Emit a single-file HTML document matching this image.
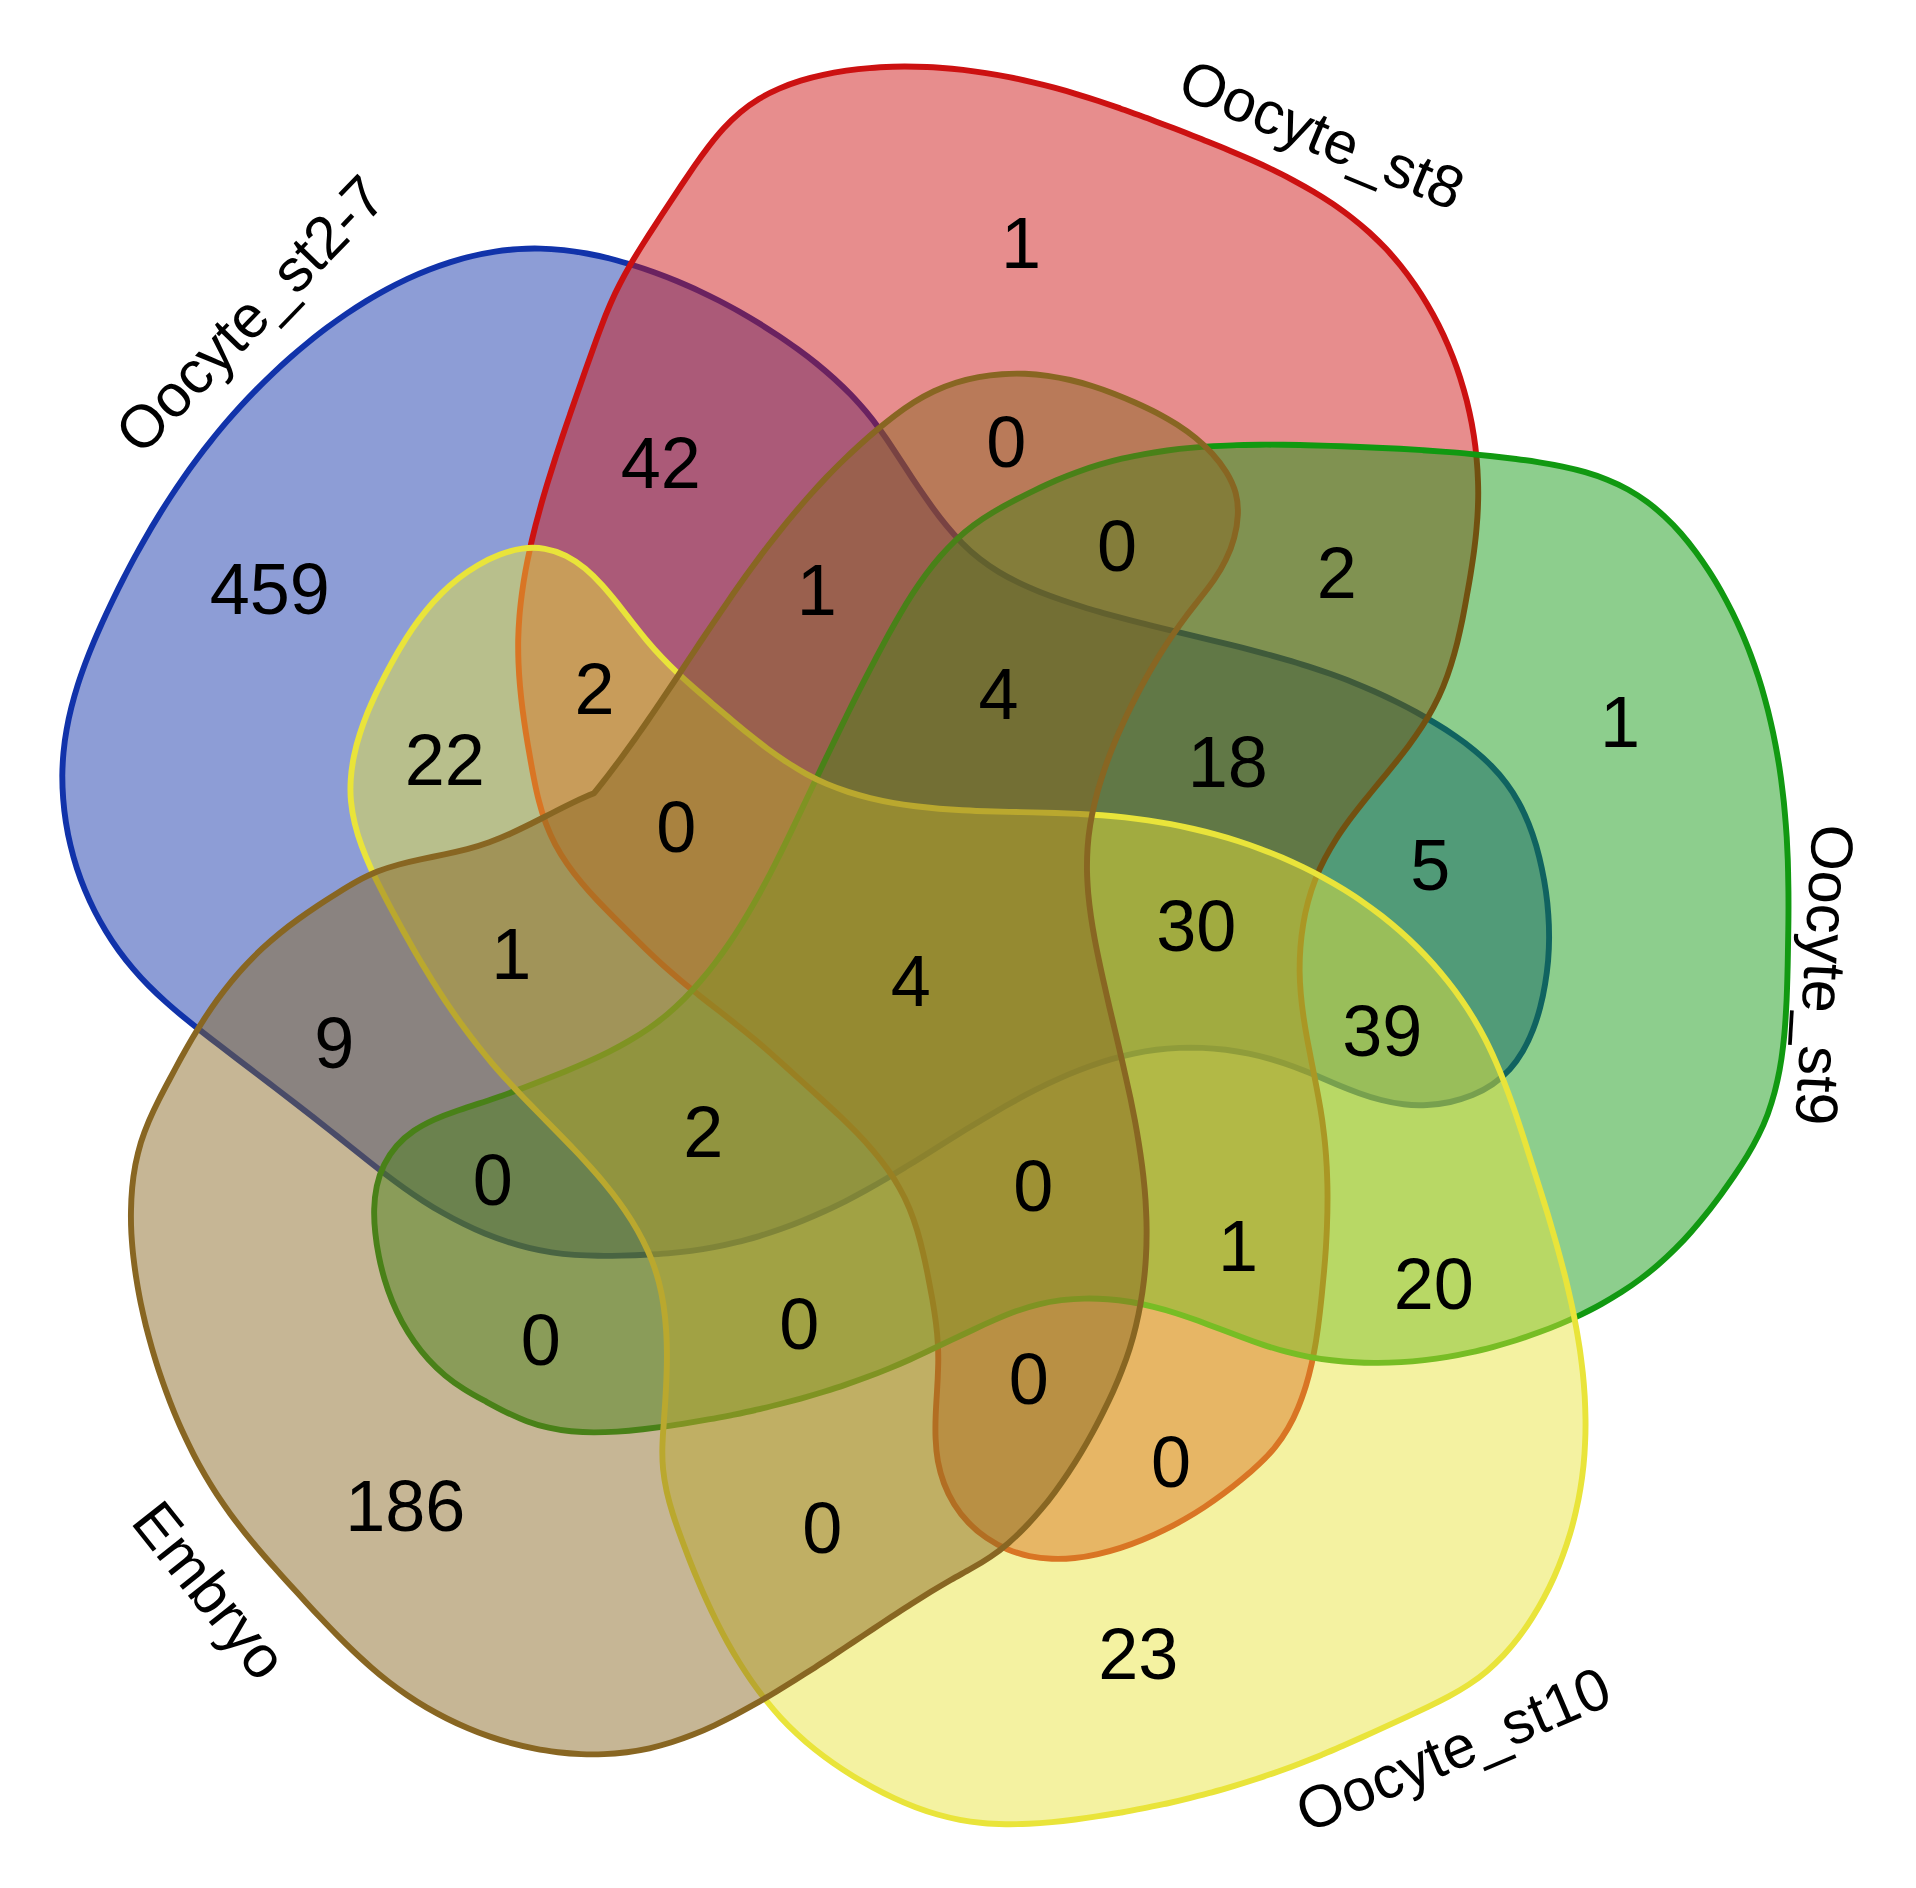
<!DOCTYPE html>
<html lang="en">
<head>
<meta charset="utf-8">
<title>Venn diagram</title>
<style>
html,body{margin:0;padding:0;background:#fff;}
body{width:1916px;height:1888px;overflow:hidden;}
svg{display:block;}
text{font-family:"Liberation Sans",sans-serif;fill:#000;text-anchor:middle;}
.n{font-size:72px;}
.l{font-size:60px;}
</style>
</head>
<body>
<svg width="1916" height="1888" viewBox="0 0 1916 1888">
<rect width="1916" height="1888" fill="#ffffff"/>
<path d="M540.6,248.6C533.0,248.4 525.3,248.6 517.8,249.1C510.2,249.6 502.6,250.4 495.1,251.6C487.6,252.8 480.1,254.2 472.7,256.0C465.3,257.7 457.9,259.8 450.6,262.1C443.3,264.4 436.1,266.9 428.9,269.8C421.7,272.6 414.6,275.6 407.5,278.9C400.5,282.2 393.5,285.7 386.7,289.4C379.8,293.1 373.0,297.1 366.2,301.1C359.5,305.2 352.9,309.5 346.4,313.9C339.8,318.4 333.4,323.0 327.0,327.7C320.7,332.4 314.5,337.3 308.4,342.2C302.2,347.2 296.2,352.3 290.3,357.5C284.4,362.7 278.7,367.9 273.0,373.3C267.4,378.6 261.8,384.1 256.4,389.6C251.0,395.0 245.7,400.6 240.5,406.3C235.4,411.9 230.3,417.6 225.3,423.4C220.4,429.2 215.5,435.1 210.8,441.1C206.0,447.0 201.3,453.1 196.8,459.2C192.2,465.3 187.7,471.5 183.4,477.8C179.0,484.1 174.7,490.5 170.5,497.0C166.3,503.4 162.1,510.0 158.1,516.6C154.0,523.2 150.0,529.9 146.2,536.7C142.3,543.4 138.5,550.3 134.7,557.1C131.0,564.0 127.3,570.9 123.8,577.9C120.2,584.9 116.7,591.9 113.3,599.0C109.9,606.0 106.6,613.1 103.3,620.2C100.1,627.4 96.9,634.5 93.9,641.7C90.9,648.9 88.0,656.1 85.3,663.3C82.6,670.6 80.0,677.9 77.7,685.2C75.4,692.5 73.3,699.9 71.4,707.3C69.5,714.8 67.9,722.2 66.6,729.8C65.2,737.3 64.2,744.9 63.5,752.6C62.8,760.2 62.4,767.9 62.3,775.7C62.3,783.4 62.6,791.2 63.2,799.0C63.8,806.8 64.7,814.6 65.9,822.3C67.1,830.1 68.6,837.8 70.5,845.4C72.3,853.0 74.4,860.6 76.8,868.0C79.2,875.4 81.9,882.7 84.9,889.9C87.9,897.1 91.1,904.1 94.6,911.0C98.1,917.9 101.9,924.6 105.9,931.2C109.9,937.8 114.2,944.2 118.7,950.5C123.2,956.7 128.0,962.8 133.0,968.6C138.0,974.5 143.2,980.2 148.6,985.6C154.1,991.1 159.7,996.4 165.5,1001.6C171.3,1006.8 177.2,1011.8 183.2,1016.8C189.2,1021.7 195.3,1026.6 201.5,1031.4C207.6,1036.2 213.8,1041.0 220.0,1045.7C226.1,1050.4 232.3,1055.1 238.5,1059.9C244.7,1064.6 250.8,1069.3 257.0,1074.0C263.1,1078.6 269.3,1083.3 275.4,1088.0C281.6,1092.7 287.7,1097.4 293.8,1102.1C300.0,1106.9 306.1,1111.6 312.2,1116.3C318.3,1121.1 324.4,1125.9 330.4,1130.7C336.5,1135.5 342.5,1140.3 348.6,1145.2C354.6,1150.0 360.7,1154.9 366.8,1159.7C372.8,1164.5 379.0,1169.3 385.1,1174.0C391.3,1178.7 397.5,1183.3 403.9,1187.8C410.2,1192.3 416.6,1196.7 423.1,1200.9C429.6,1205.1 436.3,1209.2 443.1,1213.0C449.8,1216.8 456.7,1220.5 463.7,1223.9C470.7,1227.4 477.8,1230.6 484.9,1233.5C492.1,1236.4 499.4,1239.1 506.7,1241.5C514.1,1244.0 521.5,1246.1 529.0,1247.9C536.5,1249.7 544.0,1251.2 551.6,1252.4C559.3,1253.5 566.9,1254.3 574.6,1254.9C582.3,1255.4 590.1,1255.7 597.9,1255.8C605.6,1255.9 613.4,1255.8 621.2,1255.6C629.0,1255.4 636.8,1255.2 644.6,1254.8C652.4,1254.4 660.1,1254.0 667.9,1253.4C675.7,1252.7 683.4,1251.9 691.1,1250.9C698.8,1249.9 706.4,1248.7 714.1,1247.2C721.7,1245.8 729.3,1244.1 736.8,1242.2C744.4,1240.4 751.8,1238.3 759.3,1236.1C766.7,1233.8 774.1,1231.4 781.4,1228.8C788.7,1226.2 795.9,1223.5 803.1,1220.5C810.3,1217.6 817.4,1214.5 824.4,1211.3C831.5,1208.1 838.4,1204.7 845.3,1201.3C852.1,1197.8 858.9,1194.2 865.7,1190.4C872.4,1186.7 879.1,1182.9 885.7,1179.0C892.3,1175.1 898.9,1171.1 905.5,1167.1C912.1,1163.1 918.7,1159.0 925.2,1154.9C931.8,1150.8 938.4,1146.7 945.0,1142.5C951.6,1138.4 958.3,1134.2 965.0,1130.1C971.7,1126.0 978.4,1121.9 985.1,1117.9C991.9,1113.9 998.7,1109.9 1005.5,1106.0C1012.3,1102.2 1019.2,1098.4 1026.1,1094.7C1033.0,1091.1 1040.0,1087.6 1047.0,1084.2C1054.0,1080.9 1061.0,1077.7 1068.1,1074.6C1075.3,1071.6 1082.4,1068.8 1089.6,1066.2C1096.9,1063.6 1104.1,1061.2 1111.5,1059.1C1118.8,1057.0 1126.2,1055.2 1133.7,1053.6C1141.1,1052.0 1148.7,1050.7 1156.3,1049.8C1163.9,1048.8 1171.6,1048.2 1179.3,1047.9C1187.0,1047.6 1194.7,1047.6 1202.5,1047.9C1210.3,1048.2 1218.0,1048.9 1225.8,1049.8C1233.5,1050.8 1241.2,1052.1 1248.9,1053.6C1256.6,1055.2 1264.2,1057.1 1271.7,1059.3C1279.3,1061.5 1286.7,1064.0 1294.0,1066.8C1301.4,1069.5 1308.7,1072.5 1315.9,1075.5C1323.1,1078.6 1330.3,1081.7 1337.5,1084.7C1344.7,1087.7 1351.9,1090.5 1359.2,1093.2C1366.4,1095.8 1373.7,1098.1 1381.2,1100.0C1388.6,1101.9 1396.1,1103.4 1403.7,1104.3C1411.3,1105.2 1419.1,1105.4 1427.0,1105.0C1434.8,1104.7 1442.6,1103.6 1450.2,1102.0C1457.9,1100.3 1465.3,1098.0 1472.5,1095.1C1479.6,1092.1 1486.3,1088.5 1492.6,1084.2C1498.8,1080.0 1504.5,1075.0 1509.6,1069.5C1514.6,1063.9 1519.0,1057.7 1522.9,1051.0C1526.7,1044.4 1530.1,1037.3 1532.9,1030.0C1535.8,1022.6 1538.2,1015.0 1540.2,1007.3C1542.2,999.6 1543.8,991.8 1545.1,984.0C1546.4,976.3 1547.4,968.5 1548.1,960.8C1548.7,953.0 1549.1,945.3 1549.1,937.5C1549.1,929.8 1548.9,922.1 1548.3,914.4C1547.8,906.7 1547.0,899.0 1545.9,891.3C1544.8,883.7 1543.4,876.0 1541.8,868.4C1540.2,860.7 1538.3,853.1 1536.2,845.6C1534.0,838.2 1531.5,830.8 1528.6,823.6C1525.7,816.4 1522.5,809.4 1518.8,802.7C1515.2,796.0 1511.1,789.6 1506.5,783.5C1502.0,777.4 1497.0,771.6 1491.6,766.1C1486.3,760.6 1480.5,755.4 1474.5,750.5C1468.5,745.5 1462.3,740.8 1455.8,736.4C1449.4,731.9 1442.8,727.6 1436.0,723.6C1429.3,719.5 1422.5,715.6 1415.7,711.8C1408.8,708.1 1401.9,704.5 1394.9,701.1C1388.0,697.6 1381.0,694.4 1373.9,691.2C1366.8,688.1 1359.7,685.1 1352.5,682.2C1345.4,679.4 1338.1,676.7 1330.9,674.1C1323.6,671.5 1316.3,669.0 1308.9,666.6C1301.6,664.3 1294.2,662.0 1286.8,659.9C1279.3,657.7 1271.9,655.6 1264.4,653.6C1256.9,651.6 1249.4,649.6 1241.9,647.7C1234.4,645.8 1226.9,643.9 1219.3,642.1C1211.8,640.2 1204.2,638.4 1196.6,636.6C1189.1,634.8 1181.5,633.0 1173.9,631.2C1166.4,629.4 1158.8,627.5 1151.3,625.6C1143.7,623.8 1136.2,621.8 1128.7,619.9C1121.2,617.9 1113.7,615.9 1106.2,613.8C1098.7,611.6 1091.2,609.5 1083.8,607.2C1076.4,604.9 1069.0,602.5 1061.7,600.0C1054.3,597.5 1047.0,594.8 1039.9,592.0C1032.7,589.1 1025.6,586.1 1018.7,582.7C1011.8,579.4 1005.1,575.8 998.6,571.9C992.1,567.9 985.8,563.6 979.8,558.9C973.8,554.3 968.0,549.1 962.6,543.6C957.1,538.1 951.9,532.3 946.9,526.2C941.9,520.1 937.1,513.9 932.5,507.5C927.9,501.1 923.4,494.7 919.0,488.2C914.6,481.7 910.3,475.2 906.1,468.6C901.8,462.1 897.6,455.6 893.3,449.1C889.1,442.6 884.7,436.2 880.2,430.0C875.7,423.7 871.1,417.6 866.1,411.7C861.2,405.8 856.0,400.1 850.7,394.5C845.3,389.0 839.7,383.7 834.0,378.5C828.2,373.3 822.3,368.3 816.3,363.4C810.2,358.5 804.0,353.8 797.7,349.2C791.4,344.7 785.0,340.2 778.6,335.9C772.1,331.6 765.6,327.4 759.0,323.3C752.5,319.3 745.8,315.3 739.1,311.5C732.4,307.7 725.6,304.1 718.7,300.5C711.8,297.0 704.9,293.6 697.9,290.3C690.9,287.1 683.7,284.0 676.6,281.0C669.4,278.0 662.1,275.2 654.7,272.5C647.4,269.8 639.9,267.3 632.4,265.0C624.9,262.6 617.3,260.5 609.7,258.5C602.1,256.6 594.4,254.9 586.7,253.5C579.1,252.1 571.4,250.9 563.7,250.1C556.0,249.3 548.3,248.7 540.6,248.6Z" fill="#1133AA" fill-opacity="0.48" stroke="#1133AA" stroke-width="5.9" stroke-linejoin="round"/>
<path d="M1478.0,504.6C1478.3,496.9 1478.3,489.2 1478.0,481.5C1477.8,473.8 1477.3,466.1 1476.6,458.4C1475.9,450.7 1475.0,443.0 1473.8,435.4C1472.6,427.7 1471.2,420.1 1469.5,412.5C1467.9,405.0 1466.0,397.4 1463.8,389.9C1461.7,382.5 1459.4,375.0 1456.8,367.7C1454.2,360.3 1451.3,353.0 1448.3,345.9C1445.2,338.7 1441.9,331.6 1438.4,324.7C1434.9,317.7 1431.2,310.9 1427.2,304.2C1423.3,297.5 1419.1,291.0 1414.7,284.6C1410.3,278.2 1405.7,272.0 1400.9,266.0C1396.0,260.0 1391.0,254.2 1385.8,248.6C1380.5,243.0 1375.0,237.7 1369.4,232.5C1363.7,227.4 1357.8,222.5 1351.8,217.8C1345.8,213.1 1339.5,208.6 1333.2,204.2C1326.8,199.9 1320.3,195.8 1313.6,191.8C1307.0,187.8 1300.2,184.0 1293.3,180.3C1286.4,176.7 1279.5,173.1 1272.4,169.7C1265.4,166.3 1258.2,163.0 1251.0,159.8C1243.8,156.5 1236.6,153.4 1229.3,150.4C1222.0,147.3 1214.7,144.4 1207.4,141.5C1200.1,138.5 1192.8,135.7 1185.5,132.8C1178.2,130.0 1171.0,127.2 1163.7,124.4C1156.4,121.7 1149.2,118.9 1141.9,116.3C1134.7,113.6 1127.4,111.0 1120.2,108.4C1112.9,105.9 1105.6,103.4 1098.4,101.0C1091.1,98.6 1083.7,96.3 1076.4,94.1C1069.0,91.8 1061.7,89.7 1054.2,87.7C1046.8,85.7 1039.3,83.8 1031.8,82.1C1024.3,80.3 1016.7,78.6 1009.1,77.1C1001.5,75.6 993.8,74.3 986.1,73.1C978.4,71.9 970.7,70.8 963.0,69.9C955.2,69.0 947.4,68.3 939.6,67.7C931.9,67.2 924.1,66.8 916.3,66.7C908.5,66.5 900.7,66.5 892.9,66.7C885.1,67.0 877.3,67.4 869.5,68.1C861.7,68.7 854.0,69.6 846.3,70.7C838.6,71.8 830.9,73.1 823.3,74.8C815.6,76.4 808.1,78.3 800.8,80.6C793.4,82.9 786.2,85.5 779.2,88.6C772.2,91.6 765.4,95.0 758.9,99.0C752.5,102.9 746.2,107.3 740.4,112.2C734.5,117.1 728.9,122.6 723.7,128.3C718.4,134.1 713.4,140.3 708.5,146.6C703.7,152.9 699.0,159.4 694.5,165.9C690.0,172.5 685.6,179.0 681.2,185.5C676.9,192.0 672.6,198.4 668.4,204.8C664.1,211.2 659.9,217.6 655.8,224.1C651.6,230.5 647.4,237.0 643.3,243.5C639.2,250.0 635.1,256.6 631.2,263.3C627.3,270.0 623.5,276.8 620.0,283.7C616.4,290.5 613.1,297.6 610.0,304.7C606.9,311.8 604.0,319.1 601.3,326.4C598.5,333.7 595.8,341.0 593.2,348.4C590.6,355.7 588.0,363.0 585.4,370.3C582.8,377.7 580.3,384.9 577.7,392.2C575.1,399.5 572.6,406.8 570.1,414.1C567.6,421.4 565.1,428.7 562.6,436.0C560.2,443.3 557.7,450.6 555.4,458.0C553.0,465.4 550.7,472.8 548.4,480.2C546.1,487.6 543.9,495.1 541.7,502.6C539.6,510.1 537.6,517.6 535.6,525.1C533.7,532.7 531.8,540.2 530.2,547.8C528.5,555.4 526.9,563.0 525.5,570.7C524.1,578.3 522.9,586.0 521.9,593.6C520.9,601.3 520.0,609.0 519.4,616.7C518.8,624.3 518.4,632.0 518.2,639.7C518.1,647.4 518.2,655.2 518.5,662.9C518.8,670.6 519.3,678.3 520.0,686.0C520.7,693.7 521.5,701.4 522.5,709.2C523.5,716.9 524.6,724.6 525.8,732.3C527.0,740.0 528.3,747.7 529.7,755.4C531.0,763.1 532.4,770.9 533.9,778.5C535.4,786.2 537.0,793.8 539.0,801.3C540.9,808.8 543.2,816.1 545.8,823.3C548.5,830.5 551.6,837.5 555.2,844.3C558.8,851.1 562.9,857.7 567.3,864.1C571.7,870.5 576.5,876.6 581.5,882.6C586.5,888.6 591.7,894.4 597.1,900.1C602.5,905.7 607.9,911.3 613.4,916.8C618.9,922.4 624.4,927.9 629.9,933.4C635.4,938.9 640.9,944.3 646.4,949.7C652.0,955.1 657.6,960.4 663.4,965.5C669.2,970.7 675.1,975.7 681.0,980.7C687.0,985.7 693.1,990.5 699.2,995.4C705.3,1000.2 711.5,1005.0 717.6,1009.8C723.7,1014.5 729.9,1019.3 735.9,1024.2C742.0,1029.0 748.0,1033.8 753.9,1038.8C759.8,1043.7 765.6,1048.8 771.4,1053.9C777.1,1059.0 782.8,1064.1 788.5,1069.3C794.2,1074.5 800.0,1079.7 805.7,1084.9C811.5,1090.1 817.4,1095.4 823.2,1100.7C829.0,1106.0 834.8,1111.3 840.5,1116.7C846.2,1122.2 851.8,1127.7 857.3,1133.3C862.7,1138.9 868.0,1144.7 873.0,1150.6C878.0,1156.5 882.8,1162.5 887.2,1168.8C891.7,1175.0 895.8,1181.4 899.5,1188.1C903.3,1194.7 906.6,1201.6 909.5,1208.7C912.4,1215.8 914.9,1223.1 917.2,1230.5C919.4,1238.0 921.4,1245.5 923.1,1253.1C924.9,1260.7 926.5,1268.4 928.0,1276.1C929.5,1283.8 930.9,1291.4 932.3,1299.0C933.6,1306.7 934.8,1314.3 935.8,1321.9C936.8,1329.6 937.5,1337.2 937.9,1344.9C938.3,1352.6 938.4,1360.4 938.1,1368.2C937.9,1376.0 937.5,1383.9 937.0,1391.7C936.5,1399.6 936.0,1407.4 935.7,1415.2C935.4,1423.0 935.3,1430.8 935.6,1438.5C935.9,1446.2 936.6,1453.8 937.9,1461.3C939.3,1468.8 941.3,1476.2 944.0,1483.4C946.7,1490.6 950.1,1497.6 954.2,1504.2C958.3,1510.8 963.0,1517.0 968.5,1522.6C973.9,1528.3 980.0,1533.4 986.6,1537.9C993.2,1542.4 1000.1,1546.2 1007.3,1549.2C1014.5,1552.2 1021.8,1554.5 1029.3,1556.1C1036.7,1557.6 1044.3,1558.5 1051.9,1558.8C1059.5,1559.1 1067.1,1558.8 1074.8,1558.0C1082.5,1557.2 1090.2,1555.9 1097.8,1554.1C1105.4,1552.4 1113.0,1550.3 1120.5,1547.9C1128.0,1545.5 1135.4,1542.8 1142.6,1539.8C1149.8,1536.9 1157.0,1533.7 1163.9,1530.2C1170.9,1526.8 1177.8,1523.1 1184.5,1519.3C1191.3,1515.4 1197.9,1511.3 1204.3,1507.1C1210.8,1502.8 1217.2,1498.3 1223.4,1493.7C1229.7,1489.1 1235.8,1484.3 1241.8,1479.3C1247.8,1474.4 1253.7,1469.3 1259.3,1463.9C1265.0,1458.6 1270.3,1453.1 1275.1,1447.1C1279.9,1441.2 1284.2,1434.9 1288.0,1428.3C1291.8,1421.7 1295.1,1414.9 1298.0,1407.8C1301.0,1400.8 1303.5,1393.5 1305.8,1386.2C1308.1,1378.8 1310.0,1371.3 1311.7,1363.7C1313.4,1356.0 1314.8,1348.3 1316.1,1340.6C1317.3,1332.8 1318.4,1325.0 1319.3,1317.2C1320.3,1309.4 1321.1,1301.6 1321.9,1293.8C1322.7,1286.1 1323.4,1278.4 1324.1,1270.7C1324.8,1263.0 1325.4,1255.4 1325.9,1247.7C1326.3,1240.1 1326.8,1232.5 1327.0,1224.8C1327.3,1217.2 1327.5,1209.5 1327.5,1201.8C1327.6,1194.1 1327.5,1186.3 1327.2,1178.5C1327.0,1170.8 1326.6,1163.0 1326.0,1155.2C1325.4,1147.4 1324.7,1139.5 1323.7,1131.8C1322.8,1124.0 1321.7,1116.3 1320.4,1108.6C1319.1,1100.9 1317.7,1093.2 1316.2,1085.5C1314.8,1077.9 1313.2,1070.3 1311.7,1062.6C1310.2,1055.0 1308.7,1047.4 1307.3,1039.8C1305.9,1032.2 1304.6,1024.5 1303.5,1016.9C1302.4,1009.2 1301.5,1001.6 1300.8,993.9C1300.1,986.2 1299.7,978.4 1299.6,970.7C1299.6,962.9 1299.8,955.1 1300.4,947.4C1301.0,939.6 1301.9,931.9 1303.2,924.2C1304.4,916.5 1306.1,908.9 1308.1,901.5C1310.1,894.0 1312.5,886.7 1315.3,879.5C1318.1,872.3 1321.2,865.3 1324.8,858.6C1328.4,851.8 1332.3,845.2 1336.4,838.7C1340.6,832.2 1345.1,825.9 1349.7,819.6C1354.3,813.4 1359.1,807.2 1364.0,801.1C1369.0,795.0 1373.9,789.0 1378.9,782.9C1383.9,776.8 1388.9,770.8 1393.9,764.7C1398.8,758.6 1403.6,752.4 1408.3,746.2C1412.9,740.0 1417.4,733.6 1421.6,727.2C1425.9,720.7 1429.8,714.2 1433.4,707.4C1437.0,700.7 1440.3,693.7 1443.2,686.6C1446.1,679.5 1448.7,672.3 1451.0,664.9C1453.3,657.5 1455.4,650.0 1457.3,642.5C1459.1,634.9 1460.8,627.3 1462.4,619.6C1463.9,611.9 1465.4,604.2 1466.7,596.5C1468.1,588.9 1469.5,581.2 1470.7,573.5C1471.9,565.9 1473.1,558.2 1474.1,550.6C1475.1,542.9 1476.0,535.3 1476.6,527.6C1477.3,519.9 1477.8,512.3 1478.0,504.6Z" fill="#CC1111" fill-opacity="0.48" stroke="#CC1111" stroke-width="5.9" stroke-linejoin="round"/>
<path d="M479.4,1103.4C471.9,1105.9 464.2,1108.3 456.6,1111.0C449.0,1113.6 441.5,1116.4 434.3,1119.6C427.1,1122.9 420.2,1126.5 413.9,1130.8C407.6,1135.1 401.8,1140.1 396.8,1145.8C391.8,1151.5 387.6,1157.9 384.2,1164.6C380.8,1171.4 378.4,1178.6 376.8,1186.1C375.2,1193.6 374.4,1201.3 374.2,1209.1C374.0,1217.0 374.4,1224.9 375.3,1232.8C376.1,1240.7 377.3,1248.6 378.9,1256.3C380.4,1264.0 382.3,1271.6 384.5,1279.1C386.7,1286.6 389.3,1293.9 392.2,1301.1C395.1,1308.3 398.4,1315.3 402.1,1322.1C405.8,1328.8 409.8,1335.4 414.2,1341.6C418.6,1347.9 423.4,1353.9 428.5,1359.5C433.6,1365.2 439.2,1370.5 445.1,1375.4C451.0,1380.3 457.3,1384.8 463.9,1389.0C470.5,1393.2 477.4,1397.0 484.4,1400.7C491.4,1404.5 498.3,1408.3 505.4,1411.8C512.4,1415.2 519.6,1418.5 526.8,1421.2C534.0,1423.9 541.3,1426.1 548.7,1427.7C556.1,1429.4 563.6,1430.6 571.2,1431.3C578.7,1432.0 586.4,1432.4 594.0,1432.4C601.7,1432.4 609.4,1432.1 617.2,1431.6C624.9,1431.1 632.7,1430.4 640.4,1429.5C648.2,1428.6 656.0,1427.6 663.7,1426.6C671.4,1425.5 679.1,1424.4 686.8,1423.1C694.5,1421.9 702.2,1420.6 709.9,1419.2C717.5,1417.9 725.1,1416.4 732.8,1414.9C740.4,1413.3 748.0,1411.7 755.5,1410.0C763.1,1408.2 770.7,1406.4 778.2,1404.5C785.7,1402.6 793.2,1400.6 800.7,1398.6C808.1,1396.5 815.6,1394.3 823.0,1392.0C830.4,1389.7 837.8,1387.4 845.1,1384.9C852.5,1382.4 859.8,1379.8 867.0,1377.1C874.3,1374.4 881.5,1371.6 888.7,1368.6C895.8,1365.7 902.9,1362.7 910.0,1359.5C917.1,1356.3 924.1,1353.1 931.1,1349.7C938.1,1346.4 945.1,1343.1 952.1,1339.7C959.1,1336.3 966.1,1333.0 973.2,1329.7C980.3,1326.3 987.5,1323.0 994.7,1319.9C1001.9,1316.8 1009.1,1313.8 1016.5,1311.1C1023.9,1308.5 1031.3,1306.2 1038.8,1304.4C1046.3,1302.5 1053.9,1301.2 1061.5,1300.2C1069.2,1299.3 1076.9,1298.7 1084.6,1298.6C1092.3,1298.4 1100.0,1298.7 1107.7,1299.2C1115.4,1299.8 1123.1,1300.8 1130.8,1302.0C1138.4,1303.3 1146.0,1304.9 1153.6,1306.8C1161.1,1308.6 1168.6,1310.8 1176.0,1313.2C1183.5,1315.5 1190.8,1318.1 1198.2,1320.8C1205.5,1323.5 1212.8,1326.3 1220.1,1329.0C1227.4,1331.8 1234.7,1334.6 1242.0,1337.3C1249.3,1340.1 1256.6,1342.7 1264.0,1345.1C1271.4,1347.5 1278.8,1349.8 1286.2,1351.7C1293.7,1353.7 1301.2,1355.4 1308.8,1356.8C1316.4,1358.2 1324.0,1359.4 1331.6,1360.3C1339.3,1361.2 1347.0,1361.9 1354.7,1362.3C1362.4,1362.8 1370.1,1363.0 1377.9,1362.9C1385.6,1362.9 1393.4,1362.6 1401.1,1362.1C1408.9,1361.7 1416.7,1361.0 1424.4,1360.1C1432.1,1359.2 1439.9,1358.1 1447.6,1356.8C1455.3,1355.5 1463.0,1354.0 1470.6,1352.3C1478.3,1350.7 1485.9,1348.8 1493.5,1346.8C1501.0,1344.7 1508.5,1342.5 1516.0,1340.2C1523.5,1337.8 1530.9,1335.3 1538.2,1332.6C1545.5,1330.0 1552.8,1327.1 1559.9,1324.1C1567.1,1321.1 1574.2,1317.9 1581.1,1314.6C1588.1,1311.2 1595.0,1307.7 1601.7,1303.9C1608.4,1300.2 1615.0,1296.2 1621.5,1292.1C1628.0,1287.9 1634.3,1283.6 1640.4,1279.0C1646.6,1274.4 1652.6,1269.6 1658.4,1264.5C1664.2,1259.5 1669.9,1254.2 1675.4,1248.7C1680.8,1243.3 1686.2,1237.6 1691.3,1231.7C1696.5,1225.9 1701.5,1219.8 1706.4,1213.7C1711.3,1207.5 1716.0,1201.2 1720.7,1194.9C1725.4,1188.5 1729.9,1182.0 1734.4,1175.5C1738.8,1169.0 1743.1,1162.4 1747.2,1155.7C1751.3,1149.0 1755.1,1142.2 1758.5,1135.3C1762.0,1128.4 1765.0,1121.4 1767.7,1114.2C1770.3,1107.0 1772.6,1099.7 1774.6,1092.3C1776.5,1084.9 1778.2,1077.4 1779.6,1069.9C1781.0,1062.3 1782.1,1054.6 1783.0,1046.9C1783.9,1039.2 1784.7,1031.5 1785.2,1023.7C1785.8,1015.9 1786.2,1008.1 1786.6,1000.2C1786.9,992.4 1787.2,984.5 1787.4,976.7C1787.6,968.9 1787.8,961.0 1787.9,953.2C1788.1,945.4 1788.2,937.6 1788.3,929.8C1788.4,922.0 1788.5,914.3 1788.5,906.5C1788.5,898.8 1788.5,891.0 1788.3,883.3C1788.2,875.5 1788.0,867.8 1787.8,860.0C1787.5,852.3 1787.1,844.6 1786.7,836.9C1786.2,829.2 1785.6,821.4 1784.9,813.7C1784.3,806.0 1783.5,798.3 1782.5,790.6C1781.6,782.8 1780.6,775.1 1779.4,767.4C1778.2,759.7 1776.9,752.1 1775.4,744.4C1774.0,736.8 1772.4,729.2 1770.6,721.6C1768.9,714.0 1767.0,706.5 1764.9,699.0C1762.9,691.5 1760.7,684.1 1758.3,676.7C1755.9,669.4 1753.4,662.1 1750.7,654.9C1748.0,647.6 1745.1,640.5 1742.1,633.4C1739.0,626.3 1735.7,619.2 1732.3,612.3C1728.8,605.3 1725.2,598.4 1721.4,591.6C1717.5,584.8 1713.5,578.0 1709.2,571.4C1704.9,564.7 1700.5,558.2 1695.8,551.9C1691.0,545.5 1686.1,539.4 1681.0,533.5C1675.8,527.6 1670.4,522.0 1664.7,516.7C1659.1,511.4 1653.2,506.4 1647.1,501.9C1640.9,497.3 1634.5,493.2 1627.9,489.5C1621.2,485.8 1614.3,482.5 1607.2,479.7C1600.1,476.8 1592.8,474.4 1585.3,472.2C1577.9,470.0 1570.3,468.2 1562.6,466.6C1554.9,464.9 1547.1,463.5 1539.3,462.3C1531.5,461.1 1523.7,460.0 1515.9,459.0C1508.0,458.0 1500.2,457.1 1492.5,456.2C1484.7,455.4 1476.9,454.6 1469.2,453.9C1461.5,453.1 1453.8,452.5 1446.1,451.9C1438.4,451.3 1430.7,450.7 1423.0,450.2C1415.3,449.7 1407.6,449.2 1399.9,448.8C1392.2,448.4 1384.5,448.0 1376.8,447.7C1369.1,447.3 1361.4,447.0 1353.7,446.7C1345.9,446.4 1338.2,446.1 1330.4,445.9C1322.7,445.6 1314.9,445.4 1307.1,445.2C1299.3,445.0 1291.5,444.8 1283.7,444.8C1275.9,444.7 1268.1,444.6 1260.3,444.7C1252.5,444.7 1244.7,444.9 1236.9,445.1C1229.1,445.3 1221.3,445.7 1213.5,446.1C1205.8,446.6 1198.0,447.2 1190.3,447.9C1182.6,448.6 1174.9,449.5 1167.2,450.5C1159.6,451.5 1152.0,452.7 1144.4,454.1C1136.8,455.4 1129.3,457.0 1121.8,458.7C1114.3,460.5 1106.8,462.5 1099.4,464.6C1092.1,466.8 1084.7,469.2 1077.5,471.9C1070.2,474.5 1063.0,477.4 1055.9,480.5C1048.7,483.6 1041.7,486.9 1034.6,490.3C1027.6,493.7 1020.5,497.2 1013.6,500.9C1006.6,504.5 999.7,508.3 993.1,512.3C986.4,516.3 979.9,520.6 973.7,525.2C967.5,529.8 961.7,534.7 956.1,539.9C950.6,545.2 945.3,550.7 940.2,556.5C935.2,562.3 930.4,568.3 925.8,574.5C921.2,580.7 916.8,587.2 912.6,593.7C908.4,600.2 904.3,606.9 900.3,613.7C896.4,620.5 892.5,627.3 888.7,634.2C885.0,641.1 881.3,648.0 877.6,654.9C874.0,661.8 870.3,668.7 866.8,675.6C863.2,682.5 859.7,689.5 856.2,696.4C852.7,703.3 849.3,710.3 845.9,717.2C842.5,724.2 839.1,731.1 835.7,738.1C832.3,745.1 829.0,752.1 825.6,759.0C822.3,766.0 819.0,773.0 815.6,780.0C812.3,787.0 809.0,794.0 805.7,801.0C802.3,808.0 799.0,815.1 795.7,822.1C792.3,829.1 788.9,836.1 785.5,843.1C782.1,850.1 778.6,857.1 775.1,864.0C771.6,870.9 768.0,877.8 764.3,884.7C760.6,891.5 756.9,898.3 753.0,905.0C749.1,911.8 745.2,918.4 741.1,925.0C737.0,931.6 732.8,938.1 728.4,944.5C724.0,950.9 719.5,957.2 714.9,963.3C710.2,969.5 705.3,975.5 700.3,981.3C695.3,987.2 690.1,992.8 684.6,998.3C679.2,1003.7 673.6,1009.0 667.7,1013.9C661.8,1018.9 655.7,1023.7 649.3,1028.1C642.9,1032.5 636.3,1036.7 629.5,1040.6C622.8,1044.6 615.8,1048.3 608.8,1051.8C601.7,1055.4 594.6,1058.7 587.4,1061.9C580.2,1065.1 573.0,1068.2 565.7,1071.2C558.5,1074.1 551.4,1077.0 544.3,1079.8C537.2,1082.6 530.1,1085.3 523.0,1088.0C515.9,1090.7 508.7,1093.3 501.5,1095.9C494.3,1098.4 486.9,1101.0 479.4,1103.4Z" fill="#119911" fill-opacity="0.48" stroke="#119911" stroke-width="5.9" stroke-linejoin="round"/>
<path d="M478.0,565.2C484.8,561.2 492.1,557.6 499.5,554.8C507.0,551.9 514.6,549.7 522.2,548.6C529.8,547.5 537.4,547.5 544.8,548.8C552.1,550.0 559.2,552.4 566.0,555.8C572.7,559.2 579.1,563.5 585.1,568.5C591.1,573.5 596.7,579.1 602.0,585.0C607.4,590.9 612.5,597.2 617.5,603.4C622.4,609.6 627.2,615.8 632.0,622.0C636.8,628.1 641.6,634.2 646.5,640.1C651.4,646.0 656.5,651.7 661.8,657.3C667.0,662.8 672.4,668.1 678.0,673.4C683.6,678.6 689.3,683.7 695.1,688.8C700.9,693.8 706.7,698.9 712.6,703.9C718.6,708.9 724.5,713.9 730.5,719.0C736.5,724.0 742.6,729.1 748.7,734.0C754.8,738.9 761.0,743.8 767.2,748.5C773.5,753.1 779.9,757.6 786.4,761.9C792.8,766.1 799.4,770.1 806.1,773.8C812.9,777.5 819.7,780.9 826.7,783.9C833.7,786.8 840.9,789.5 848.1,791.9C855.3,794.2 862.7,796.3 870.1,798.1C877.6,799.9 885.1,801.5 892.7,802.9C900.3,804.2 908.0,805.3 915.7,806.3C923.5,807.2 931.2,808.0 939.0,808.7C946.8,809.3 954.6,809.8 962.5,810.2C970.3,810.6 978.1,811.0 986.0,811.2C993.8,811.5 1001.6,811.7 1009.4,811.9C1017.1,812.0 1024.9,812.2 1032.6,812.4C1040.4,812.6 1048.1,812.8 1055.8,813.0C1063.5,813.3 1071.2,813.6 1078.9,813.9C1086.6,814.3 1094.3,814.8 1101.9,815.3C1109.6,815.9 1117.3,816.6 1124.9,817.4C1132.6,818.3 1140.3,819.3 1147.9,820.4C1155.6,821.5 1163.2,822.8 1170.8,824.2C1178.4,825.7 1186.0,827.3 1193.6,829.0C1201.1,830.7 1208.6,832.6 1216.1,834.7C1223.6,836.7 1231.0,838.9 1238.4,841.3C1245.8,843.7 1253.1,846.2 1260.4,848.9C1267.6,851.6 1274.8,854.5 1282.0,857.5C1289.1,860.6 1296.1,863.8 1303.1,867.1C1310.1,870.5 1317.0,874.1 1323.7,877.8C1330.5,881.5 1337.2,885.4 1343.8,889.5C1350.4,893.6 1356.9,897.8 1363.2,902.3C1369.6,906.7 1375.8,911.3 1382.0,916.1C1388.1,920.9 1394.1,925.9 1399.9,931.0C1405.7,936.1 1411.4,941.4 1416.9,946.9C1422.4,952.4 1427.8,958.0 1433.0,963.7C1438.1,969.5 1443.1,975.4 1447.9,981.5C1452.7,987.5 1457.3,993.7 1461.7,1000.1C1466.1,1006.4 1470.3,1012.9 1474.2,1019.5C1478.2,1026.1 1481.9,1032.8 1485.4,1039.7C1488.9,1046.5 1492.1,1053.5 1495.3,1060.6C1498.4,1067.6 1501.3,1074.8 1504.1,1082.0C1506.9,1089.2 1509.6,1096.5 1512.2,1103.8C1514.8,1111.1 1517.3,1118.5 1519.7,1125.9C1522.2,1133.3 1524.6,1140.7 1526.9,1148.1C1529.3,1155.5 1531.7,1162.9 1534.0,1170.3C1536.4,1177.7 1538.7,1185.1 1541.0,1192.5C1543.3,1199.9 1545.6,1207.3 1547.9,1214.7C1550.1,1222.2 1552.3,1229.6 1554.4,1237.0C1556.6,1244.4 1558.6,1251.9 1560.6,1259.3C1562.6,1266.8 1564.6,1274.2 1566.4,1281.7C1568.2,1289.2 1569.9,1296.8 1571.6,1304.3C1573.2,1311.8 1574.7,1319.4 1576.1,1327.0C1577.5,1334.6 1578.7,1342.3 1579.9,1349.9C1581.0,1357.6 1581.9,1365.2 1582.8,1372.9C1583.6,1380.6 1584.2,1388.3 1584.7,1396.1C1585.1,1403.8 1585.4,1411.5 1585.5,1419.2C1585.6,1427.0 1585.5,1434.7 1585.1,1442.4C1584.8,1450.1 1584.3,1457.8 1583.5,1465.5C1582.7,1473.2 1581.7,1480.9 1580.4,1488.5C1579.2,1496.1 1577.7,1503.7 1575.9,1511.3C1574.2,1518.8 1572.3,1526.3 1570.1,1533.7C1567.9,1541.1 1565.4,1548.5 1562.7,1555.7C1560.1,1563.0 1557.1,1570.2 1554.0,1577.2C1550.8,1584.3 1547.4,1591.2 1543.7,1598.1C1540.1,1604.9 1536.1,1611.6 1532.0,1618.1C1527.8,1624.7 1523.4,1631.1 1518.7,1637.3C1514.0,1643.5 1509.0,1649.4 1503.8,1655.1C1498.5,1660.7 1493.0,1666.0 1487.1,1670.9C1481.3,1675.9 1475.1,1680.4 1468.7,1684.6C1462.3,1688.8 1455.6,1692.7 1448.8,1696.4C1442.0,1700.0 1435.0,1703.5 1428.0,1706.9C1421.0,1710.2 1413.9,1713.5 1406.8,1716.8C1399.7,1720.1 1392.6,1723.4 1385.5,1726.6C1378.4,1729.9 1371.4,1733.1 1364.3,1736.3C1357.2,1739.5 1350.1,1742.7 1343.0,1745.8C1335.9,1748.9 1328.7,1751.9 1321.6,1754.9C1314.4,1757.8 1307.2,1760.7 1300.0,1763.5C1292.8,1766.2 1285.5,1768.9 1278.3,1771.5C1271.0,1774.1 1263.7,1776.6 1256.3,1779.0C1249.0,1781.4 1241.6,1783.7 1234.3,1785.9C1226.9,1788.1 1219.4,1790.3 1212.0,1792.3C1204.5,1794.3 1197.1,1796.3 1189.6,1798.1C1182.1,1800.0 1174.5,1801.8 1167.0,1803.5C1159.4,1805.1 1151.9,1806.7 1144.3,1808.2C1136.7,1809.7 1129.0,1811.2 1121.4,1812.5C1113.7,1813.8 1106.1,1815.1 1098.4,1816.2C1090.7,1817.4 1083.0,1818.5 1075.2,1819.5C1067.5,1820.5 1059.8,1821.4 1052.0,1822.1C1044.3,1822.8 1036.5,1823.4 1028.8,1823.8C1021.0,1824.1 1013.3,1824.3 1005.6,1824.2C997.9,1824.0 990.3,1823.7 982.6,1823.0C975.0,1822.2 967.4,1821.2 959.9,1819.8C952.4,1818.4 944.9,1816.6 937.5,1814.5C930.1,1812.4 922.8,1809.9 915.6,1807.2C908.3,1804.4 901.1,1801.4 894.1,1798.1C887.0,1794.8 880.0,1791.3 873.2,1787.6C866.3,1783.8 859.5,1779.9 852.9,1775.9C846.2,1771.8 839.7,1767.6 833.3,1763.1C826.9,1758.7 820.7,1754.1 814.7,1749.3C808.6,1744.5 802.8,1739.5 797.2,1734.2C791.6,1729.0 786.2,1723.6 781.0,1718.0C775.8,1712.3 770.9,1706.5 766.1,1700.5C761.3,1694.5 756.7,1688.4 752.3,1682.1C747.8,1675.8 743.6,1669.3 739.5,1662.8C735.4,1656.2 731.5,1649.5 727.7,1642.7C723.9,1635.9 720.3,1629.0 716.8,1622.0C713.3,1615.0 709.9,1607.9 706.7,1600.8C703.4,1593.7 700.3,1586.5 697.3,1579.2C694.3,1572.0 691.3,1564.7 688.5,1557.4C685.7,1550.1 682.9,1542.8 680.3,1535.5C677.6,1528.2 675.0,1520.9 672.7,1513.5C670.4,1506.2 668.4,1498.9 666.7,1491.5C665.1,1484.1 663.8,1476.7 663.1,1469.3C662.4,1461.9 662.2,1454.4 662.4,1446.9C662.6,1439.3 663.1,1431.7 663.7,1424.0C664.2,1416.3 664.8,1408.5 665.3,1400.5C665.8,1392.6 666.2,1384.6 666.5,1376.6C666.8,1368.5 667.0,1360.5 666.9,1352.4C666.8,1344.4 666.6,1336.4 666.0,1328.5C665.5,1320.5 664.6,1312.7 663.5,1305.0C662.3,1297.3 660.8,1289.7 658.9,1282.3C657.0,1275.0 654.7,1267.8 652.0,1260.8C649.3,1253.8 646.2,1247.0 642.8,1240.3C639.4,1233.6 635.7,1227.1 631.7,1220.7C627.7,1214.4 623.5,1208.1 619.0,1202.0C614.5,1195.8 609.8,1189.8 604.9,1183.9C600.0,1177.9 594.9,1172.1 589.7,1166.3C584.5,1160.5 579.2,1154.7 573.7,1149.0C568.3,1143.3 562.8,1137.7 557.3,1132.1C551.8,1126.4 546.2,1120.8 540.7,1115.2C535.1,1109.5 529.6,1103.9 524.1,1098.2C518.6,1092.6 513.2,1086.9 507.9,1081.1C502.6,1075.4 497.5,1069.6 492.4,1063.7C487.4,1057.8 482.5,1051.8 477.8,1045.8C473.0,1039.8 468.4,1033.7 463.9,1027.6C459.4,1021.4 455.0,1015.2 450.7,1008.9C446.4,1002.6 442.2,996.2 438.1,989.8C434.0,983.4 429.9,976.9 426.0,970.3C422.0,963.8 418.1,957.2 414.2,950.5C410.4,943.8 406.6,937.0 402.8,930.2C399.1,923.4 395.4,916.5 391.6,909.6C387.9,902.6 384.2,895.6 380.7,888.6C377.1,881.5 373.6,874.4 370.4,867.2C367.1,860.1 364.1,852.8 361.5,845.6C358.8,838.3 356.6,831.0 354.8,823.6C353.0,816.2 351.7,808.8 351.0,801.4C350.3,793.9 350.3,786.4 350.8,778.9C351.3,771.4 352.4,763.9 353.9,756.4C355.4,748.9 357.4,741.4 359.8,734.0C362.2,726.5 364.9,719.1 367.9,711.7C371.0,704.4 374.2,697.1 377.7,689.9C381.2,682.7 384.9,675.6 388.6,668.6C392.4,661.6 396.2,654.7 400.2,648.0C404.2,641.3 408.3,634.8 412.7,628.4C417.0,622.1 421.6,616.0 426.4,610.1C431.2,604.2 436.3,598.6 441.6,593.3C447.0,587.9 452.7,582.9 458.7,578.2C464.8,573.5 471.2,569.2 478.0,565.2Z" fill="#E9E43A" fill-opacity="0.48" stroke="#E9E43A" stroke-width="5.9" stroke-linejoin="round"/>
<path d="M594.0,793.3C586.9,796.1 579.9,799.3 572.9,802.6C565.9,806.0 559.0,809.4 552.2,813.0C545.3,816.5 538.4,820.0 531.5,823.5C524.6,826.9 517.7,830.3 510.7,833.5C503.7,836.7 496.6,839.6 489.3,842.3C482.1,844.9 474.7,847.2 467.2,849.2C459.8,851.1 452.2,852.8 444.5,854.4C436.9,856.0 429.3,857.5 421.7,859.1C414.1,860.7 406.5,862.5 399.1,864.5C391.7,866.5 384.5,868.8 377.4,871.6C370.4,874.4 363.6,877.8 356.9,881.4C350.2,885.1 343.7,889.1 337.2,893.2C330.6,897.3 324.1,901.4 317.7,905.7C311.2,910.0 304.8,914.4 298.5,919.0C292.2,923.5 286.0,928.2 280.0,933.1C274.0,938.0 268.2,943.0 262.6,948.2C256.9,953.5 251.5,958.9 246.3,964.5C241.0,970.1 236.0,975.9 231.1,981.8C226.3,987.7 221.6,993.8 217.1,1000.0C212.6,1006.2 208.3,1012.6 204.1,1019.1C200.0,1025.6 195.9,1032.1 192.0,1038.8C188.1,1045.5 184.3,1052.2 180.5,1059.0C176.8,1065.8 173.1,1072.7 169.5,1079.5C165.8,1086.4 162.2,1093.2 158.7,1100.1C155.2,1107.0 151.9,1114.0 148.9,1121.0C145.9,1128.1 143.2,1135.2 140.9,1142.5C138.7,1149.8 136.9,1157.2 135.4,1164.7C134.0,1172.2 132.9,1179.8 132.2,1187.4C131.5,1195.1 131.1,1202.8 131.0,1210.5C130.8,1218.3 131.0,1226.0 131.4,1233.8C131.9,1241.6 132.5,1249.4 133.4,1257.1C134.3,1264.8 135.3,1272.6 136.6,1280.2C137.8,1287.9 139.2,1295.4 140.7,1303.0C142.3,1310.5 144.0,1318.0 145.8,1325.5C147.7,1332.9 149.7,1340.3 151.8,1347.7C153.9,1355.0 156.2,1362.4 158.5,1369.7C160.9,1376.9 163.4,1384.2 166.1,1391.4C168.7,1398.6 171.5,1405.8 174.4,1412.9C177.4,1420.1 180.4,1427.1 183.7,1434.1C186.9,1441.1 190.3,1448.0 193.8,1454.9C197.3,1461.7 201.0,1468.4 204.9,1475.1C208.8,1481.7 212.8,1488.3 217.0,1494.7C221.3,1501.2 225.7,1507.5 230.2,1513.7C234.8,1519.9 239.5,1526.1 244.3,1532.1C249.1,1538.1 254.1,1544.1 259.1,1550.0C264.1,1555.9 269.2,1561.8 274.4,1567.5C279.5,1573.3 284.7,1579.1 289.9,1584.8C295.2,1590.5 300.4,1596.2 305.7,1601.9C310.9,1607.6 316.1,1613.2 321.4,1618.8C326.7,1624.4 332.0,1630.0 337.4,1635.4C342.8,1640.9 348.2,1646.2 353.8,1651.5C359.3,1656.7 364.9,1661.9 370.7,1666.9C376.4,1671.9 382.3,1676.8 388.3,1681.5C394.4,1686.2 400.5,1690.7 406.9,1695.0C413.2,1699.3 419.8,1703.5 426.4,1707.4C433.1,1711.3 439.9,1715.0 446.9,1718.5C453.8,1722.0 460.9,1725.2 468.1,1728.2C475.3,1731.3 482.6,1734.1 490.0,1736.6C497.3,1739.1 504.8,1741.4 512.3,1743.4C519.8,1745.4 527.4,1747.2 535.0,1748.7C542.7,1750.2 550.3,1751.3 558.0,1752.3C565.7,1753.2 573.4,1753.8 581.1,1754.1C588.7,1754.4 596.4,1754.4 604.1,1754.1C611.7,1753.8 619.3,1753.1 626.9,1752.2C634.5,1751.2 642.0,1749.9 649.5,1748.3C656.9,1746.6 664.3,1744.6 671.6,1742.3C678.9,1740.0 686.1,1737.4 693.2,1734.6C700.4,1731.7 707.5,1728.6 714.5,1725.3C721.5,1722.0 728.4,1718.5 735.3,1714.9C742.1,1711.3 748.9,1707.5 755.7,1703.7C762.4,1699.8 769.1,1695.9 775.7,1691.9C782.3,1687.9 788.9,1683.9 795.5,1679.8C802.0,1675.7 808.5,1671.5 815.0,1667.4C821.4,1663.2 827.9,1659.0 834.3,1654.7C840.7,1650.5 847.1,1646.2 853.5,1642.0C859.9,1637.7 866.3,1633.5 872.7,1629.2C879.1,1625.0 885.5,1620.7 891.9,1616.5C898.4,1612.3 904.8,1608.1 911.3,1604.0C917.8,1599.9 924.3,1595.8 930.8,1591.8C937.4,1587.8 944.0,1583.9 950.7,1580.0C957.3,1576.2 964.1,1572.6 970.8,1568.8C977.5,1565.1 984.1,1561.2 990.4,1556.9C996.8,1552.6 1002.8,1547.9 1008.6,1542.9C1014.4,1537.8 1020.0,1532.5 1025.4,1526.9C1030.8,1521.4 1035.9,1515.6 1040.9,1509.7C1045.9,1503.8 1050.7,1497.7 1055.3,1491.4C1059.9,1485.2 1064.3,1478.9 1068.6,1472.4C1072.9,1465.9 1077.0,1459.4 1081.0,1452.7C1085.0,1446.1 1088.8,1439.4 1092.5,1432.6C1096.2,1425.8 1099.8,1419.0 1103.2,1412.1C1106.6,1405.3 1109.9,1398.4 1113.1,1391.4C1116.2,1384.5 1119.2,1377.5 1121.9,1370.4C1124.7,1363.3 1127.3,1356.1 1129.6,1348.8C1131.9,1341.5 1134.0,1334.1 1135.8,1326.5C1137.6,1319.0 1139.2,1311.4 1140.5,1303.8C1141.9,1296.1 1143.0,1288.4 1143.9,1280.7C1144.8,1272.9 1145.5,1265.2 1145.9,1257.5C1146.4,1249.8 1146.6,1242.1 1146.6,1234.4C1146.7,1226.7 1146.5,1219.1 1146.1,1211.5C1145.8,1203.8 1145.3,1196.2 1144.6,1188.6C1143.9,1181.0 1143.1,1173.4 1142.1,1165.9C1141.1,1158.3 1140.0,1150.7 1138.8,1143.2C1137.6,1135.6 1136.3,1128.1 1134.9,1120.5C1133.4,1113.0 1131.9,1105.5 1130.4,1097.9C1128.8,1090.4 1127.1,1082.9 1125.4,1075.4C1123.7,1067.8 1122.0,1060.3 1120.2,1052.8C1118.5,1045.2 1116.7,1037.7 1114.9,1030.1C1113.1,1022.6 1111.3,1015.0 1109.5,1007.5C1107.8,999.9 1106.0,992.3 1104.3,984.7C1102.6,977.2 1100.9,969.6 1099.3,961.9C1097.7,954.3 1096.1,946.7 1094.7,939.0C1093.3,931.4 1092.0,923.8 1090.9,916.1C1089.8,908.5 1088.9,900.8 1088.2,893.2C1087.6,885.5 1087.1,877.9 1087.0,870.3C1086.9,862.7 1087.1,855.1 1087.6,847.5C1088.1,839.9 1089.0,832.3 1090.2,824.8C1091.4,817.3 1093.0,809.8 1094.8,802.3C1096.6,794.8 1098.6,787.4 1101.0,780.0C1103.3,772.7 1105.8,765.3 1108.5,758.1C1111.2,750.8 1114.2,743.6 1117.2,736.4C1120.3,729.3 1123.5,722.2 1126.8,715.2C1130.1,708.2 1133.6,701.3 1137.2,694.5C1140.7,687.6 1144.4,680.9 1148.2,674.2C1152.0,667.5 1156.0,660.9 1160.0,654.4C1164.1,647.9 1168.3,641.5 1172.6,635.2C1176.9,628.9 1181.4,622.6 1186.0,616.5C1190.6,610.4 1195.4,604.4 1200.1,598.3C1204.9,592.3 1209.6,586.2 1214.0,579.9C1218.4,573.6 1222.4,566.9 1225.8,559.8C1229.3,552.8 1232.1,545.5 1234.1,538.0C1236.2,530.5 1237.5,522.8 1237.8,515.2C1238.2,507.6 1237.5,500.0 1235.6,492.8C1233.6,485.5 1230.2,478.5 1226.2,472.0C1222.1,465.4 1217.5,459.4 1212.3,453.7C1207.2,448.1 1201.7,442.9 1195.7,438.0C1189.8,433.2 1183.5,428.7 1177.0,424.5C1170.4,420.3 1163.6,416.5 1156.7,412.8C1149.7,409.2 1142.6,405.9 1135.5,402.7C1128.3,399.5 1121.1,396.5 1113.9,393.7C1106.7,390.9 1099.4,388.3 1092.1,386.0C1084.8,383.7 1077.5,381.7 1070.1,380.0C1062.7,378.3 1055.2,376.9 1047.7,375.8C1040.2,374.8 1032.6,374.1 1025.0,373.8C1017.4,373.5 1009.7,373.6 1001.9,374.2C994.2,374.7 986.4,375.7 978.6,377.2C970.9,378.6 963.3,380.5 955.8,382.8C948.3,385.2 941.0,388.0 934.0,391.2C927.0,394.5 920.3,398.2 913.9,402.3C907.4,406.4 901.2,410.8 895.1,415.4C889.1,420.0 883.1,424.8 877.2,429.6C871.3,434.5 865.5,439.6 859.9,444.7C854.2,449.8 848.6,455.1 843.1,460.5C837.6,465.8 832.2,471.3 826.8,476.9C821.5,482.5 816.3,488.1 811.1,493.9C805.9,499.6 800.9,505.5 795.9,511.4C790.9,517.3 786.0,523.2 781.1,529.3C776.3,535.3 771.5,541.4 766.8,547.5C762.1,553.7 757.5,559.9 753.0,566.1C748.4,572.3 743.9,578.6 739.5,584.8C735.0,591.1 730.6,597.4 726.3,603.8C721.9,610.1 717.6,616.5 713.3,622.9C709.0,629.2 704.7,635.6 700.4,642.0C696.2,648.4 691.9,654.8 687.7,661.2C683.4,667.7 679.1,674.1 674.9,680.5C670.6,686.9 666.3,693.3 662.0,699.6C657.7,706.0 653.4,712.4 649.0,718.7C644.7,725.1 640.2,731.4 635.8,737.7C631.3,744.0 626.8,750.2 622.3,756.4C617.7,762.7 613.1,768.8 608.4,775.0C603.6,781.1 598.9,787.2 594.0,793.2Z" fill="#886622" fill-opacity="0.48" stroke="#886622" stroke-width="5.9" stroke-linejoin="round"/>
<text class="n" x="1021.1" y="241.75" dy="0.358em">1</text>
<text class="n" x="660.75" y="462.0" dy="0.358em">42</text>
<text class="n" x="269.75" y="588.2" dy="0.358em">459</text>
<text class="n" x="1006.25" y="441.2" dy="0.358em">0</text>
<text class="n" x="1117.0" y="545.7" dy="0.358em">0</text>
<text class="n" x="1336.75" y="572.5" dy="0.358em">2</text>
<text class="n" x="816.8" y="589.25" dy="0.358em">1</text>
<text class="n" x="594.6" y="688.0" dy="0.358em">2</text>
<text class="n" x="998.5" y="693.5" dy="0.358em">4</text>
<text class="n" x="444.75" y="758.75" dy="0.358em">22</text>
<text class="n" x="1227.75" y="761.3" dy="0.358em">18</text>
<text class="n" x="1620.1" y="720.8" dy="0.358em">1</text>
<text class="n" x="676.3" y="825.75" dy="0.358em">0</text>
<text class="n" x="1430.3" y="864.7" dy="0.358em">5</text>
<text class="n" x="1196.25" y="925.5" dy="0.358em">30</text>
<text class="n" x="511.35" y="953.25" dy="0.358em">1</text>
<text class="n" x="910.75" y="979.75" dy="0.358em">4</text>
<text class="n" x="1382.3" y="1030.3" dy="0.358em">39</text>
<text class="n" x="334.2" y="1042.3" dy="0.358em">9</text>
<text class="n" x="703.3" y="1131.2" dy="0.358em">2</text>
<text class="n" x="492.7" y="1179.5" dy="0.358em">0</text>
<text class="n" x="1033.25" y="1185.0" dy="0.358em">0</text>
<text class="n" x="1238.1" y="1244.8" dy="0.358em">1</text>
<text class="n" x="1433.75" y="1283.5" dy="0.358em">20</text>
<text class="n" x="540.8" y="1339.0" dy="0.358em">0</text>
<text class="n" x="799.3" y="1323.5" dy="0.358em">0</text>
<text class="n" x="1028.7" y="1378.2" dy="0.358em">0</text>
<text class="n" x="1171.0" y="1461.3" dy="0.358em">0</text>
<text class="n" x="405.3" y="1505.3" dy="0.358em">186</text>
<text class="n" x="822.3" y="1527.0" dy="0.358em">0</text>
<text class="n" x="1138.2" y="1653.7" dy="0.358em">23</text>
<text class="l" style="font-size:60px" transform="translate(265.2,328.6) rotate(-46)">Oocyte_st2-7</text>
<text class="l" style="font-size:59.5px" transform="translate(1314.1,153.5) rotate(22.5)">Oocyte_st8</text>
<text class="l" style="font-size:59.5px" transform="translate(1804.0,973.8) rotate(93.3)">Oocyte_st9</text>
<text class="l" style="font-size:59.5px" transform="translate(1461.1,1768.3) rotate(-23)">Oocyte_st10</text>
<text class="l" style="font-size:60px" transform="translate(193.8,1603.2) rotate(51.5)">Embryo</text>
</svg>
</body>
</html>
